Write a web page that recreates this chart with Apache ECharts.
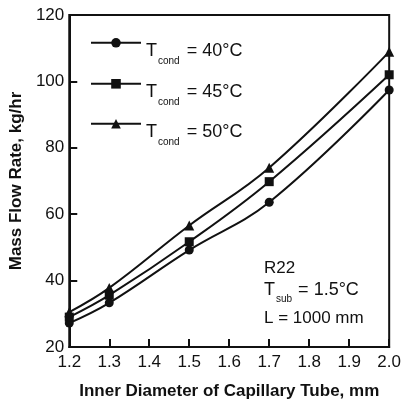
<!DOCTYPE html>
<html>
<head>
<meta charset="utf-8">
<script src="https://cdn.jsdelivr.net/npm/echarts@6/dist/echarts.min.js"></script>
<style>
html,body{margin:0;padding:0;background:#fff;}
#c{width:404px;height:405px;}
</style>
</head>
<body>
<div id="c"></div>
<script>
const diameters = [1.2, 1.3, 1.5, 1.7, 2.0];
const flow40 = [27.2, 33.3, 49.2, 63.6, 97.4];
const flow45 = [29.0, 35.6, 51.7, 69.8, 102.0];
const flow50 = [30.5, 37.8, 56.6, 74.0, 108.9];
const seriesNames = ['40', '45', '50'];
const seriesTemps = ['40°C', '45°C', '50°C'];
const xTicks = ['1.2','1.3','1.4','1.5','1.6','1.7','1.8','1.9','2.0'];
const yTicks = [20, 40, 60, 80, 100, 120];
const xTitle = 'Inner Diameter of Capillary Tube, mm';
const yTitle = 'Mass Flow Rate, kg/hr';
const noteLines = ['R22', 'T', 'sub', ' = 1.5°C', 'L = 1000 mm'];

const FONT = '"Liberation Sans", Arial, Helvetica, sans-serif';
const symbols = ['circle', 'rect', 'triangle'];
const symbolSizes = [9, 9, 10];
const allFlows = [flow40, flow45, flow50];

const chart = echarts.init(document.getElementById('c'), null, {renderer: 'canvas'});

const series = allFlows.map((arr, i) => ({
  name: seriesNames[i],
  type: 'line',
  smooth: 0.4,
  data: diameters.map((d, j) => [d, arr[j]]),
  symbol: symbols[i],
  symbolSize: symbolSizes[i],
  showAllSymbol: true,
  lineStyle: {color: '#111', width: 2},
  itemStyle: {color: '#111'},
  z: 3
}));

const legendTops = [38, 79, 119];
const legends = seriesNames.map((n, i) => ({
  data: [n],
  left: 90,
  top: legendTops[i],
  padding: 0,
  itemWidth: 50,
  itemHeight: 12,
  selectedMode: false,
  formatter: () => '{t|T}{s|cond}{t| = ' + seriesTemps[i] + '}',
  textStyle: {
    color: '#111',
    fontFamily: FONT,
    padding: [16, 0, 0, 0],
    rich: {
      t: {fontSize: 18, lineHeight: 18, verticalAlign: 'top', fontFamily: FONT, color: '#111'},
      s: {fontSize: 10, lineHeight: 10, verticalAlign: 'top', padding: [14, 2, 0, 1], fontFamily: FONT, color: '#111'}
    }
  }
}));

chart.setOption({
  backgroundColor: '#fff',
  animation: false,
  grid: {left: 65, right: 13, top: 15, bottom: 57, show: true, borderColor: '#111', borderWidth: 2, backgroundColor: 'transparent'},
  legend: legends,
  xAxis: {
    type: 'value',
    min: 1.2, max: 2.0, interval: 0.1,
    name: xTitle,
    nameLocation: 'middle',
    nameGap: 36,
    nameTextStyle: {fontFamily: FONT, fontSize: 17, fontWeight: 'bold', color: '#111'},
    axisLine: {show: true, lineStyle: {color: '#111', width: 2}},
    axisTick: {show: true, inside: true, length: 8, lineStyle: {color: '#111', width: 2}},
    splitLine: {show: false},
    axisLabel: {
      margin: 7, fontFamily: FONT, fontSize: 17, color: '#111',
      formatter: v => { const k = Math.round((v - 1.2) / 0.1); return xTicks[k] !== undefined ? xTicks[k] : ''; }
    }
  },
  yAxis: {
    type: 'value',
    min: 20, max: 120, interval: 20,
    name: yTitle,
    nameLocation: 'middle',
    nameGap: 43,
    nameTextStyle: {fontFamily: FONT, fontSize: 17, fontWeight: 'bold', color: '#111'},
    axisLine: {show: true, lineStyle: {color: '#111', width: 2}},
    axisTick: {show: true, inside: true, length: 8, lineStyle: {color: '#111', width: 2}},
    splitLine: {show: false},
    axisLabel: {
      margin: 5, fontFamily: FONT, fontSize: 17, color: '#111',
      formatter: v => (yTicks.indexOf(v) >= 0 ? String(v) : '')
    }
  },
  graphic: [
    {type: 'text', x: 264, y: 268, style: {text: noteLines[0], fontFamily: FONT, fontSize: 17, fill: '#111', verticalAlign: 'middle'}},
    {type: 'text', x: 264, y: 281, style: {
      text: '{t|' + noteLines[1] + '}{s|' + noteLines[2] + '}{t|' + noteLines[3] + '}',
      fontFamily: FONT, fill: '#111', verticalAlign: 'top',
      rich: {
        t: {fontSize: 18, lineHeight: 18, verticalAlign: 'top', fontFamily: FONT, fill: '#111'},
        s: {fontSize: 10, lineHeight: 10, verticalAlign: 'top', padding: [13, 1, 0, 1], fontFamily: FONT, fill: '#111'}
      }
    }},
    {type: 'text', x: 264, y: 318, style: {text: noteLines[4], fontFamily: FONT, fontSize: 17, fill: '#111', verticalAlign: 'middle'}}
  ],
  series: series
});
</script>
</body>
</html>
